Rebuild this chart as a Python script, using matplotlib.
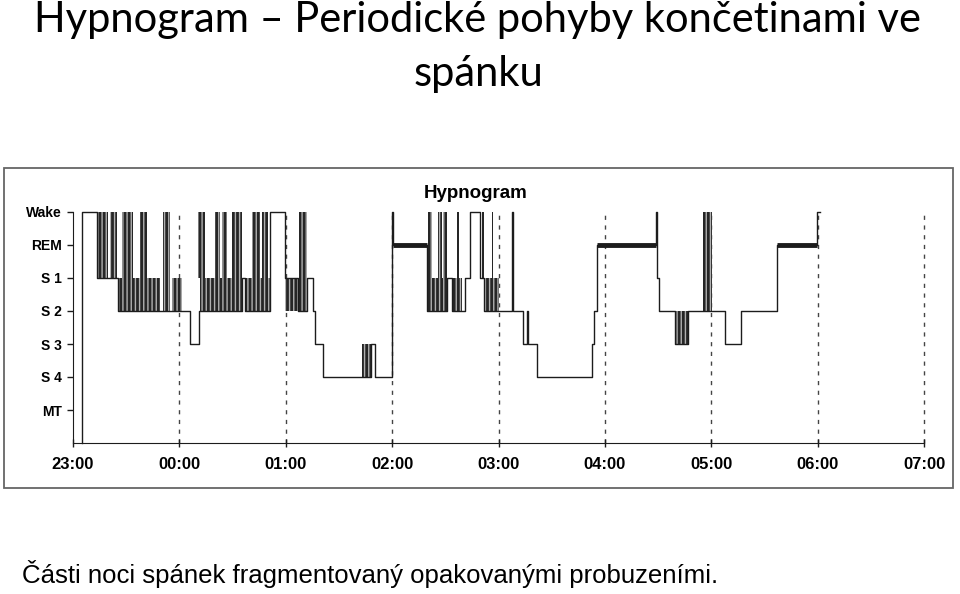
import numpy as np
import matplotlib.pyplot as plt
from matplotlib.patches import Rectangle

# stage codes: 0 Wake, 1 REM, 2 S1, 3 S2, 4 S3, 5 S4, 6 MT, 7 = axis floor
stage_names = ["Wake", "REM", "S 1", "S 2", "S 3", "S 4", "MT"]
hour_labels = ["23:00", "00:00", "01:00", "02:00", "03:00", "04:00", "05:00", "06:00", "07:00"]

# main hypnogram path: minutes after 23:00 and stage (step, post)
t_min = [5.0, 5.0, 13.5, 25.4, 61.5, 66.0, 71.1, 95.1, 97.0, 111.1, 119.6, 126.9,
         132.0, 135.4, 136.5, 141.0, 168.0, 170.3, 179.7, 180.3, 199.7, 211.0,
         214.0, 221.0, 223.9, 229.5, 232.0, 247.4, 248.2, 253.8, 256.1, 256.6,
         261.7, 292.7, 293.9, 295.5, 328.8, 329.6, 330.6, 339.5, 346.9, 367.7,
         376.8, 397.1, 419.4, 421.5]
stage = [7, 0, 2, 3, 3, 4, 3, 2, 3, 0, 2, 3,
         2, 3, 4, 5, 4, 5, 0, 1, 3, 2,
         3, 2, 0, 2, 3, 0, 3, 4, 3, 4,
         5, 4, 3, 1, 0, 2, 3, 4, 3, 4,
         3, 1, 0, 0]

# fragmented stretches (rapid switching): start, end, upper stage, lower stage
frag_start = [13.4, 20.9, 25.4, 27.5, 37.8, 50.9, 55.8,
              70.7, 80.1, 83.9, 89.5, 100.8, 106.4, 71.6, 97.0,
              119.6, 127.5, 163.0,
              200.2, 205.8, 208.7, 216.5, 230.6, 236.1, 200.0, 214.0, 232.0,
              339.5, 355.3]
frag_end = [19.9, 24.6, 49.0, 34.0, 41.6, 54.7, 61.5,
            74.4, 82.9, 86.7, 95.1, 105.5, 110.1, 95.1, 111.1,
            126.9, 132.0, 168.0,
            202.5, 208.0, 210.9, 217.7, 231.7, 237.0, 211.0, 219.5, 240.0,
            346.9, 360.4]
frag_top = [0, 0, 2, 0, 0, 0, 2,
            0, 0, 0, 0, 0, 0, 2, 2,
            2, 0, 4,
            0, 0, 0, 0, 0, 0, 2, 2, 2,
            3, 0]
frag_bottom = [2, 2, 3, 2, 2, 3, 3,
               2, 2, 2, 2, 2, 2, 3, 3,
               3, 3, 5,
               2, 2, 2, 2, 2, 2, 3, 3, 3,
               4, 3]

# REM periods (drawn heavy)
rem_start = [180.3, 295.5, 397.1]
rem_end = [199.7, 328.8, 419.4]

ink = "#1c1c1c"

fig = plt.figure(figsize=(9.6, 5.94), dpi=100)

# scanned picture frame
fig.patches.append(Rectangle((4/960, 1-488/594), 949/960, 320/594, transform=fig.transFigure,
                             fill=False, edgecolor="#666666", lw=1.3))

ax = fig.add_axes([73/960, 1-443/594, 851/960, 231/594])
ax.set_xlim(0, 480)
ax.set_ylim(7, 0)

ax.step(t_min, stage, where='post', color=ink, lw=1.0, clip_on=False, zorder=3)
# dense switching: dark block with lighter vertical streaks
for i in range(len(frag_start)):
    ax.add_patch(Rectangle((frag_start[i], frag_top[i]), frag_end[i]-frag_start[i],
                           frag_bottom[i]-frag_top[i], facecolor="#262626", edgecolor="#b0b0b0",
                           hatch='|'*4, lw=0, zorder=2, clip_on=False))
ax.hlines([1]*len(rem_start), rem_start, rem_end, color=ink, lw=3.5, zorder=4)

for h in range(1, 9):
    ax.plot([h*60, h*60], [7, 0], color="#444444", lw=1.0, ls=(0, (3, 4)), zorder=1, clip_on=False)

for s in ['top', 'right']:
    ax.spines[s].set_visible(False)
ax.spines['left'].set_color(ink)
ax.spines['bottom'].set_color(ink)
ax.spines['left'].set_bounds(0, 7)

ax.set_yticks(range(7))
ax.set_yticklabels(stage_names, fontsize=10, fontweight='bold', family='Liberation Sans')
ax.set_xticks([h*60 for h in range(9)])
ax.set_xticklabels(hour_labels, fontsize=12, fontweight='bold', family='Liberation Sans')
ax.tick_params(axis='y', direction='out', length=4, width=1, pad=4, color=ink)
ax.tick_params(axis='x', direction='inout', length=6, width=1, pad=7, color=ink)

fig.text(476/960, 1-194/594, "Hypnogram", ha='center', va='center', fontsize=13.5,
         fontweight='bold', family='Liberation Sans')

# slide texts
fig.text(478/960, 1-32/594, "Hypnogram – Periodické pohyby končetinami ve", ha='center',
         va='baseline', fontsize=30, family='Lato')
fig.text(478/960, 1-86/594, "spánku", ha='center', va='baseline', fontsize=30, family='Lato')
fig.text(22/960, 1-583/594, "Části noci spánek fragmentovaný opakovanými probuzeními.",
         ha='left', va='baseline', fontsize=18.5, family='Liberation Sans')

fig.savefig("out.png", dpi=100)
